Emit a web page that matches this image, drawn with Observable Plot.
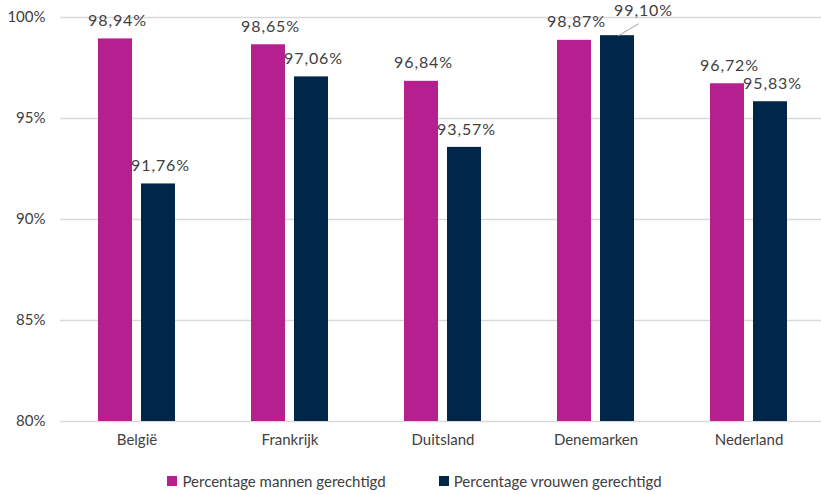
<!DOCTYPE html>
<html>
<head>
<meta charset="utf-8">
<script src="https://cdn.jsdelivr.net/npm/d3@7"></script>
<script src="https://cdn.jsdelivr.net/npm/@observablehq/plot@0.6"></script>
<style>
  html, body { margin: 0; padding: 0; background: #fff; }
  body { width: 821px; height: 494px; overflow: hidden; font-family: Lato, "Open Sans", sans-serif; color: #404040; }
  #legend { display: flex; justify-content: center; gap: 53px; font-size: 15px; height: 26px; align-items: center; padding-top: 8px; padding-left: 8px; }
  .item { display: flex; align-items: center; gap: 5px; }
  .sw { width: 10px; height: 10px; display: inline-block; }
  .vlab text { letter-spacing: 0.9px; }
</style>
</head>
<body>
<div id="chart"></div>
<div id="legend"></div>
<script>
const countries = ["België", "Frankrijk", "Duitsland", "Denemarken", "Nederland"];
const series = ["Percentage mannen gerechtigd", "Percentage vrouwen gerechtigd"];
const mannen = [98.94, 98.65, 96.84, 98.87, 96.72];
const vrouwen = [91.76, 97.06, 93.57, 99.10, 95.83];
const yTicks = [80, 85, 90, 95, 100];
const colors = ["#B51F8F", "#00274A"];

const data = [];
countries.forEach((c, i) => {
  data.push({country: c, series: series[0], value: mannen[i]});
  data.push({country: c, series: series[1], value: vrouwen[i]});
});
const fmt = v => v.toFixed(2).replace(".", ",") + "%";
const isCallout = d => d.country === "Denemarken" && d.series === series[1];

const chart = Plot.plot({
  width: 821,
  height: 460,
  marginLeft: 60,
  marginRight: 1,
  marginTop: 17,
  marginBottom: 39,
  style: {fontSize: "15px", fontFamily: "Lato, 'Open Sans', sans-serif", color: "#404040", background: "#fff"},
  fx: {domain: countries, paddingInner: 0, paddingOuter: -0.03, align: 0.1, label: null, tickSize: 0, tickPadding: 13},
  x: {domain: series, paddingInner: 0.2045, paddingOuter: 0.847, axis: null},
  y: {domain: [80, 100], ticks: yTicks, tickFormat: d => d + "%", tickSize: 0, tickPadding: 15, label: null},
  color: {domain: series, range: colors},
  marks: [
    Plot.ruleY(yTicks, {y: d => d, stroke: "#d9d9d9", strokeWidth: 1.3}),
    Plot.barY(data, {fx: "country", x: "series", y1: 80, y2: "value", fill: "series"}),
    Plot.text(data.filter(d => !isCallout(d)), {fx: "country", x: "series", y: "value", text: d => fmt(d.value), dy: -18, dx: 2, fontSize: 16, fill: "#404040", className: "vlab"}),
    Plot.text(data.filter(isCallout), {fx: "country", x: "series", y: "value", text: d => fmt(d.value), dy: -25, dx: 26, fontSize: 16, fill: "#404040", className: "vlab"}),
    Plot.vector(data.filter(isCallout), {fx: "country", x: "series", y: "value", length: 23, rotate: 59, anchor: "start", stroke: "#a6a6a6", strokeWidth: 1, dx: 1,
      shape: {draw(context, l) { context.moveTo(0, 0); context.lineTo(0, -l); }}})
  ]
});
document.getElementById("chart").appendChild(chart);

const legend = document.getElementById("legend");
series.forEach((s, i) => {
  const it = document.createElement("div");
  it.className = "item";
  it.innerHTML = `<span class="sw" style="background:${colors[i]}"></span><span>${s}</span>`;
  legend.appendChild(it);
});
</script>
</body>
</html>
